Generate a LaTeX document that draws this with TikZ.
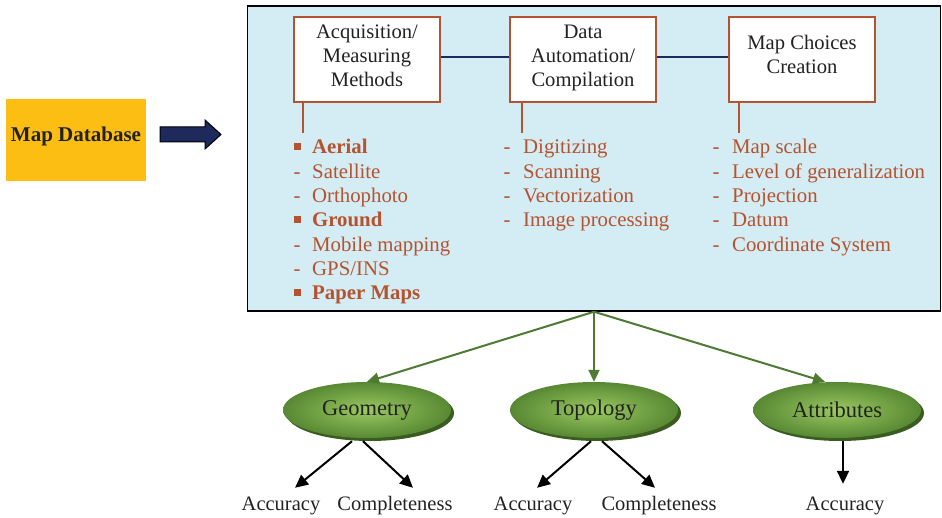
\documentclass[tikz,border=0pt]{standalone}
\usepackage{fontspec}
\setmainfont{Liberation Serif}
\usetikzlibrary{shapes.geometric,arrows.meta,shadows,calc}

\definecolor{panelblue}{HTML}{D4ECF3}
\definecolor{sienna}{HTML}{B4532F}
\definecolor{navyline}{HTML}{1F2A5C}
\definecolor{dbgold}{HTML}{FDBE14}
\definecolor{leafgreen}{HTML}{4E7A31}
\definecolor{glight}{HTML}{9BC962}
\definecolor{gdark}{HTML}{588833}
\definecolor{gshadow}{HTML}{3A5C20}
\definecolor{inktext}{HTML}{222222}

\tikzset{
  panelbox/.style={draw=black, line width=1.5pt, fill=panelblue,
    minimum width=693, minimum height=305, inner sep=0},
  stepbox/.style={draw=sienna, line width=1.5pt, fill=white,
    minimum width=146, minimum height=85, inner sep=0, align=center,
    font=\fontsize{20.6}{24}\selectfont, text=inktext},
  listitem/.style={anchor=west, inner sep=0, text=sienna,
    font=\fontsize{20.8}{24}\selectfont, text height=14, text depth=4},
  listhead/.style={listitem, font=\fontsize{20.8}{24}\selectfont\bfseries},
  dashmark/.style={inner sep=0, text=sienna,
    font=\fontsize{20.8}{24}\selectfont, text height=14, text depth=4},
  sqmark/.style={fill=sienna, minimum size=7, inner sep=0},
  blob/.style={ellipse, minimum width=168, minimum height=56, inner sep=0,
    inner color=glight, outer color=gdark,
    drop shadow={shadow xshift=3pt, shadow yshift=-3pt, opacity=1, fill=gshadow},
    font=\fontsize{22.5}{24}\selectfont, text=inktext},
  outlabel/.style={inner sep=0, text=inktext,
    font=\fontsize{20.5}{24}\selectfont, text height=14, text depth=4},
  greenarrow/.style={draw=leafgreen, line width=2pt,
    -{Triangle[length=12pt,width=11pt]}, fill=leafgreen},
  blackarrow/.style={draw=black, line width=2pt,
    -{Triangle[length=13pt,width=12pt]}},
  linkline/.style={draw=navyline, line width=2.5pt},
  dropline/.style={draw=sienna, line width=2.5pt},
}

\begin{document}
\begin{tikzpicture}[x=1pt,y=-1pt]
\useasboundingbox (0,0) rectangle (942,518);

% source box and block arrow
\node[fill=dbgold, minimum width=140, minimum height=82, inner sep=0,
      text=inktext, font=\fontsize{21}{24}\selectfont\bfseries,
      text height=14, text depth=10] (db) at (76,140) {Map Database};
\coordinate (ba) at (160,134.5);
\draw[fill=navyline, draw=black, line width=1pt]
  ($(ba)+(0,-7.5)$) -- ($(ba)+(45,-7.5)$) -- ($(ba)+(45,-14.5)$) --
  ($(ba)+(61,0)$) -- ($(ba)+(45,14.5)$) -- ($(ba)+(45,7.5)$) --
  ($(ba)+(0,7.5)$) -- cycle;

% main panel
\node[panelbox] (panel) at (594,158.5) {};

% process boxes (text box measured from its last baseline)
\node[stepbox, text height=62, text depth=7] (box1) at (367,59.5)
  {Acquisition/\\Measuring\\Methods};
\node[stepbox, text height=62, text depth=7] (box2) at (583,59.5)
  {Data\\Automation/\\Compilation};
\node[stepbox, text height=38, text depth=9] (box3) at (802,59.5)
  {Map Choices\\Creation};

\draw[linkline] ([yshift=2.5pt]box1.east) -- ([yshift=2.5pt]box2.west);
\draw[linkline] ([yshift=2.5pt]box2.east) -- ([yshift=2.5pt]box3.west);

\coordinate (d1) at (303,133);
\coordinate (d2) at (522,133);
\coordinate (d3) at (739,133);
\draw[dropline] (box1.south -| d1) -- (d1);
\draw[dropline] (box2.south -| d2) -- (d2);
\draw[dropline] (box3.south -| d3) -- (d3);

% acquisition list
\node[sqmark] (s1) at (297.5,147) {};
\node[listhead] (a1) at (312,149) {Aerial};
\node[dashmark] (m2) at (297,174) {-};
\node[listitem] (a2) at (312,174) {Satellite};
\node[dashmark] (m3) at (297,198) {-};
\node[listitem] (a3) at (312,198) {Orthophoto};
\node[sqmark] (s4) at (297.5,220) {};
\node[listhead] (a4) at (312,222) {Ground};
\node[dashmark] (m5) at (297,247) {-};
\node[listitem] (a5) at (312,247) {Mobile mapping};
\node[dashmark] (m6) at (297,271) {-};
\node[listitem] (a6) at (312,271) {GPS/INS};
\node[sqmark] (s7) at (297.5,293) {};
\node[listhead] (a7) at (312,295) {Paper Maps};

% compilation list
\node[dashmark] (n1) at (507,149) {-};
\node[listitem] (b1) at (523,149) {Digitizing};
\node[dashmark] (n2) at (507,174) {-};
\node[listitem] (b2) at (523,174) {Scanning};
\node[dashmark] (n3) at (507,198) {-};
\node[listitem] (b3) at (523,198) {Vectorization};
\node[dashmark] (n4) at (507,222) {-};
\node[listitem] (b4) at (523,222) {Image processing};

% map choices list
\node[dashmark] (k1) at (716,149) {-};
\node[listitem] (c1) at (732,149) {Map scale};
\node[dashmark] (k2) at (716,174) {-};
\node[listitem] (c2) at (732,174) {Level of generalization};
\node[dashmark] (k3) at (716,198) {-};
\node[listitem] (c3) at (732,198) {Projection};
\node[dashmark] (k4) at (716,222) {-};
\node[listitem] (c4) at (732,222) {Datum};
\node[dashmark] (k5) at (716,247) {-};
\node[listitem] (c5) at (732,247) {Coordinate System};

% quality components
\node[blob] (geo) at (367,410) {Geometry};
\node[blob] (topo) at (594,410) {Topology};
\node[blob] (attr) at (837,410) {Attributes};

\draw[greenarrow] (panel.south) -- (geo.north);
\draw[greenarrow] (panel.south) -- (topo.north);
\draw[greenarrow] (panel.south) -- ([xshift=-12pt]attr.north);

% quality measures
\node[outlabel] (acc1) at (281,505) {Accuracy};
\node[outlabel] (cmp1) at (395,505) {Completeness};
\node[outlabel] (acc2) at (533,505) {Accuracy};
\node[outlabel] (cmp2) at (659,505) {Completeness};
\node[outlabel] (acc3) at (845,505) {Accuracy};

\draw[blackarrow] ([xshift=-15pt,yshift=-3pt]geo.south) -- ([xshift=14pt,yshift=8pt]acc1.north);
\draw[blackarrow] ([xshift=-4pt,yshift=-3pt]geo.south) -- ([xshift=18pt,yshift=8pt]cmp1.north);
\draw[blackarrow] ([xshift=-3pt,yshift=-3pt]topo.south) -- ([xshift=4pt,yshift=8pt]acc2.north);
\draw[blackarrow] ([xshift=8pt,yshift=-3pt]topo.south) -- ([xshift=-4pt,yshift=8pt]cmp2.north);
\draw[blackarrow] ([xshift=6pt,yshift=-3pt]attr.south) -- ([xshift=-2pt,yshift=12pt]acc3.north);
\end{tikzpicture}
\end{document}
